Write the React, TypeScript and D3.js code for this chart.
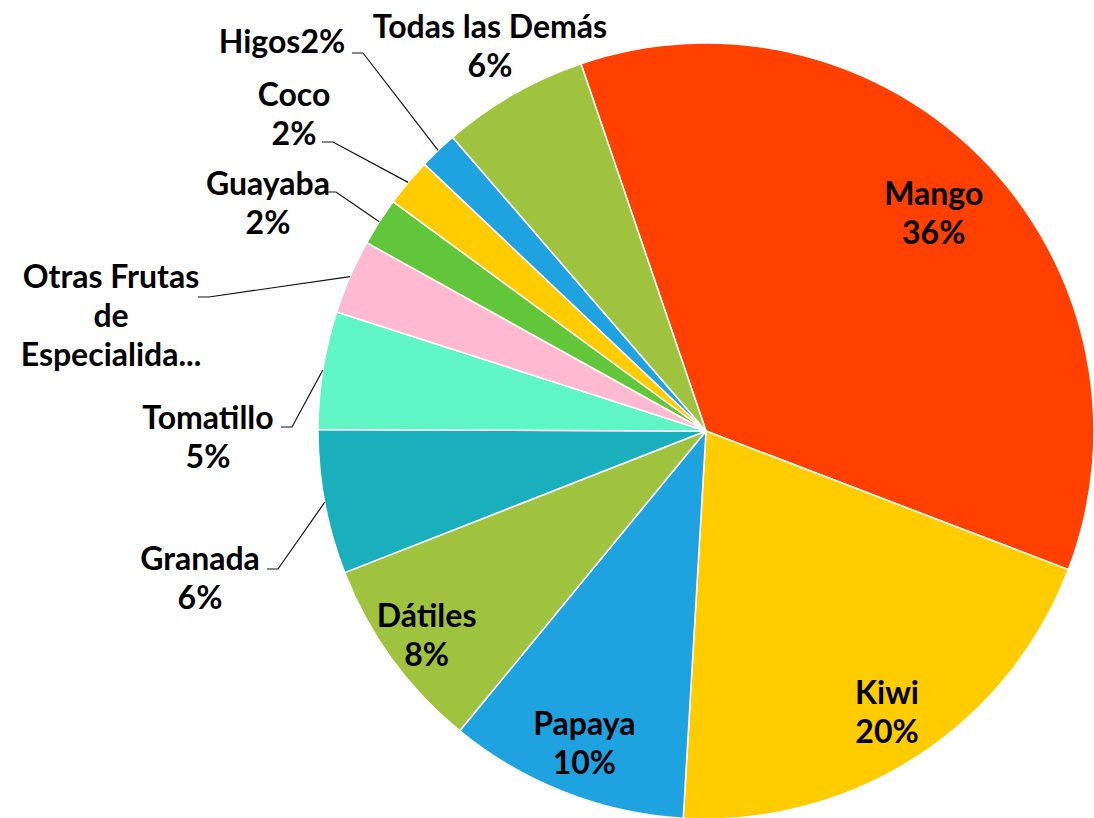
import React, { useRef, useEffect } from 'react';
import * as d3 from 'd3';

// slices, clockwise from Mango
const fruits = ["Mango", "Kiwi", "Papaya", "Dátiles", "Granada", "Tomatillo",
    "Otras Frutas de Especialidad", "Guayaba", "Coco", "Higos", "Todas las Demás"];
const shares = [36, 20.1, 10, 8.1, 6, 4.9, 3.1, 2, 2, 1.6, 6.1];
const colors = ["#FF4000", "#FFCC00", "#1FA3E0", "#A0C33F", "#1AAFBD", "#5FF5C4",
    "#FFB9D0", "#62C63A", "#FFCC00", "#1FA3E0", "#A0C33F"];

// how the label text is broken (the long name is cut by the chart)
const nameLines = [["Mango"], ["Kiwi"], ["Papaya"], ["Dátiles"], ["Granada"], ["Tomatillo"],
    ["Otras Frutas", "de", "Especialida..."], ["Guayaba"], ["Coco"], ["Higos"], ["Todas las Demás"]];
const pctMode = ["line", "line", "line", "line", "line", "line", "none", "line", "line", "inline", "line"];

// label placement: inside labels use a radius factor, outside ones a block position + leader elbow
const labelLayout = [
    { inside: 0.815 },
    { inside: 0.86 },
    { inside: 0.86 },
    { inside: 0.89 },
    { x: 200, y: 557, elbow: [278, 569] },
    { x: 208, y: 416, elbow: [292, 427] },
    { x: 111, y: 275, elbow: [209, 297] },
    { x: 268, y: 182, elbow: [336, 192] },
    { x: 294, y: 93, elbow: [333, 142] },
    { x: 282, y: 40, elbow: [363, 53] },
    { x: 490, y: 25 },
];

const width = 1094;
const height = 818;
const cx = 706;
const cy = 431;
const radius = 388;
const lineGap = 39;
const startDeg = -18.8;

const PieChart = () => {
    const svgRef = useRef(null);

    useEffect(() => {
        if (!svgRef.current) return;
        const svg = d3.select(svgRef.current);
        svg.selectAll("*").remove();

        const total = d3.sum(shares);
        const data = fruits.map((f, i) => ({ name: f, value: shares[i], i }));

        const start = startDeg * Math.PI / 180;
        const pie = d3.pie<any>()
            .value(d => d.value)
            .sort(null)
            .startAngle(start)
            .endAngle(start + 2 * Math.PI);

        const arcs = pie(data);
        const arc = d3.arc<any>().innerRadius(0).outerRadius(radius);

        const g = svg.append("g").attr("transform", `translate(${cx},${cy})`);

        g.selectAll("path.slice")
            .data(arcs)
            .enter().append("path")
            .attr("class", "slice")
            .attr("d", arc)
            .attr("fill", d => colors[d.data.i])
            .attr("stroke", "#fff")
            .attr("stroke-width", 1.5)
            .attr("stroke-linejoin", "round");

        const labels = svg.append("g")
            .attr("font-family", "Lato, 'Open Sans', sans-serif")
            .attr("font-weight", 700)
            .attr("font-size", 32)
            .attr("fill", "#000");

        arcs.forEach(a => {
            const i = a.data.i;
            const pct = Math.round(a.data.value / total * 100) + "%";
            let lines = nameLines[i].slice();
            if (pctMode[i] === "line") lines.push(pct);
            if (pctMode[i] === "inline") lines[lines.length - 1] += pct;

            const lay: any = labelLayout[i];
            let x, y0;
            if (lay.inside) {
                const r = radius * lay.inside;
                const [px, py] = d3.arc<any>().innerRadius(r).outerRadius(r).centroid(a);
                x = cx + px;
                y0 = cy + py - (lines.length - 1) * lineGap / 2;
            } else {
                x = lay.x;
                y0 = lay.y;
                if (lay.elbow) {
                    const [ex, ey] = d3.arc<any>().innerRadius(radius).outerRadius(radius).centroid(a);
                    const path = d3.path();
                    path.moveTo(cx + ex, cy + ey);
                    path.lineTo(lay.elbow[0], lay.elbow[1]);
                    path.lineTo(lay.elbow[0] - 11, lay.elbow[1]);
                    svg.append("path")
                        .attr("d", path.toString())
                        .attr("fill", "none")
                        .attr("stroke", "#111")
                        .attr("stroke-width", 1.2);
                }
            }

            const t = labels.append("text").attr("text-anchor", "middle");
            lines.forEach((ln, k) => {
                t.append("tspan")
                    .attr("x", x)
                    .attr("y", y0 + k * lineGap)
                    .attr("dominant-baseline", "central")
                    .text(ln);
            });
        });
    }, []);

    return (
        <svg ref={svgRef} width={width} height={height}
            style={{ position: "absolute", left: 0, top: 0, background: "#fff" }} />
    );
};

export default function App() {
    return <PieChart />;
}
